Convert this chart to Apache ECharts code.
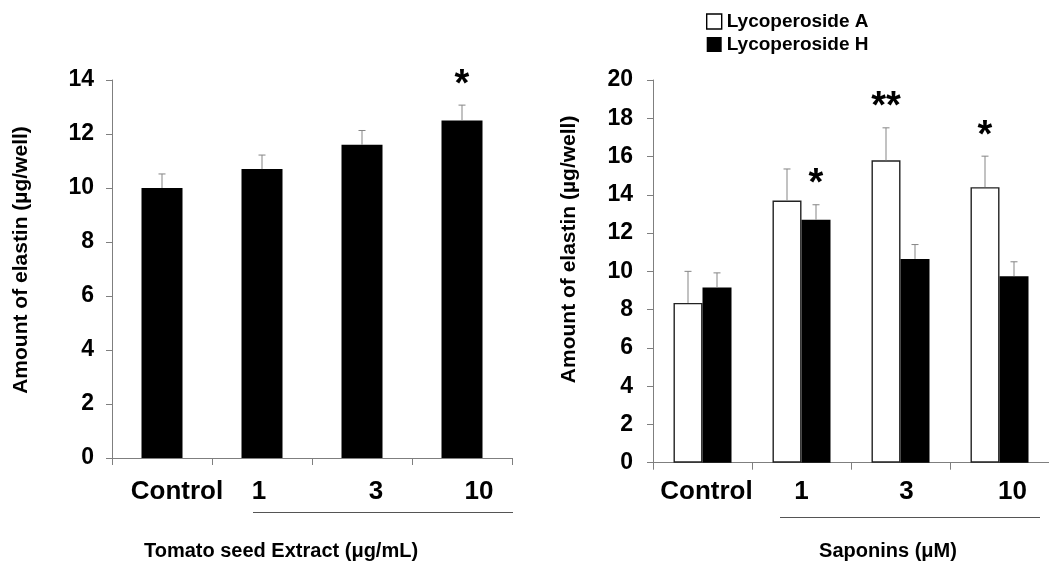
<!DOCTYPE html>
<html><head><meta charset="utf-8">
<script src="https://cdn.jsdelivr.net/npm/echarts@6/dist/echarts.min.js"></script>
<style>html,body{margin:0;padding:0;background:#fff}#c{width:1049px;height:563px}</style>
</head><body><div id="c"></div>
<script>
// ---- data ----
const leftCategories = ['Control', '1', '3', '10'];
const leftValues = [10.0, 10.7, 11.6, 12.5];
const leftErrors = [0.52, 0.52, 0.53, 0.57];
const leftStars = ['', '', '', '*'];

const rightCategories = ['Control', '1', '3', '10'];
const lycoA = [8.35, 13.7, 15.8, 14.4];
const lycoAErr = [1.65, 1.65, 1.7, 1.62];
const lycoH = [9.15, 12.7, 10.65, 9.75];
const lycoHErr = [0.77, 0.78, 0.75, 0.75];
const lycoAStars = ['', '', '**', '*'];
const lycoHStars = ['', '*', '', ''];

const leftYTicks = {min: 0, max: 14, interval: 2};
const rightYTicks = {min: 0, max: 20, interval: 2};
const leftXTitle = 'Tomato seed Extract (\u03bcg/mL)';
const rightXTitle = 'Saponins (\u03bcM)';
const yTitle = 'Amount of elastin (\u00b5g/well)';

// ---- style helpers ----
const FONT = '"Liberation Sans", Arial, sans-serif';
const leftLabelShift = [30, -6, 28, 34];
const rightLabelShift = [8, 0, 12, 26];

function catData(cats, shifts) {
  return cats.map((c, i) => ({
    value: c,
    textStyle: {padding: shifts[i] >= 0 ? [0, 0, 0, shifts[i]] : [0, -shifts[i], 0, 0]}
  }));
}

function errRender(values, errs, stars, offset) {
  return function (params, api) {
    const i = params.dataIndex;
    const x = api.coord([i, 0])[0] + offset;
    const yTop = api.coord([i, values[i]])[1];
    const yErr = api.coord([i, values[i] + errs[i]])[1];
    const children = [
      {type: 'line', shape: {x1: x, y1: yTop, x2: x, y2: yErr}, style: {stroke: '#858585', lineWidth: 1}},
      {type: 'line', shape: {x1: x - 3.5, y1: yErr, x2: x + 3.5, y2: yErr}, style: {stroke: '#858585', lineWidth: 1}}
    ];
    if (stars[i]) {
      children.push({type: 'text', x: x, y: yErr - 20,
        style: {text: stars[i], font: 'bold 38px ' + FONT, fill: '#000', align: 'center', verticalAlign: 'middle'}});
    }
    return {type: 'group', children};
  };
}

const axisLineStyle = {color: '#7f7f7f', width: 1};

function xAxisCfg(idx, cats, shifts, margin) {
  return {
    type: 'category', gridIndex: idx, data: catData(cats, shifts),
    axisLine: {lineStyle: axisLineStyle},
    axisTick: {show: true, length: 7, lineStyle: axisLineStyle},
    axisLabel: {color: '#000', fontFamily: FONT, fontWeight: 'bold', fontSize: 26, margin: margin, interval: 0}
  };
}
function yAxisCfg(idx, ticks, margin, nameGap, namePad) {
  return {
    type: 'value', gridIndex: idx, min: ticks.min, max: ticks.max, interval: ticks.interval,
    axisLine: {show: true, lineStyle: axisLineStyle},
    axisTick: {show: true, length: 6, lineStyle: axisLineStyle},
    splitLine: {show: false},
    axisLabel: {color: '#000', fontFamily: FONT, fontWeight: 'bold', fontSize: 23, margin: margin},
    name: yTitle, nameLocation: 'middle', nameRotate: 90, nameGap: nameGap,
    nameTextStyle: {color: '#000', fontFamily: FONT, fontWeight: 'bold', fontSize: 21, padding: namePad}
  };
}

const chart = echarts.init(document.getElementById('c'), null, {renderer: 'canvas'});
const option = {
  animation: false,
  backgroundColor: '#fff',
  grid: [
    {left: 112, top: 80, width: 400, height: 378},
    {left: 653, top: 80, width: 404, height: 382.7}
  ],
  legend: {
    orient: 'vertical', left: 701, top: 7, itemWidth: 15, itemHeight: 15, itemGap: 4,
    data: [
      {name: 'Lycoperoside A', icon: 'rect', itemStyle: {color: '#fff', borderColor: '#000', borderWidth: 1.4}},
      {name: 'Lycoperoside H', icon: 'rect', itemStyle: {color: '#000'}}
    ],
    textStyle: {color: '#000', fontFamily: FONT, fontWeight: 'bold', fontSize: 19},
    selectedMode: false
  },
  xAxis: [
    xAxisCfg(0, leftCategories, leftLabelShift, 21),
    xAxisCfg(1, rightCategories, rightLabelShift, 16)
  ],
  yAxis: [
    yAxisCfg(0, leftYTicks, 18, 80, [0, 0, 0, 18]),
    yAxisCfg(1, rightYTicks, 20, 73, [0, 0, 0, 44])
  ],
  series: [
    {type: 'bar', name: 'Extract', xAxisIndex: 0, yAxisIndex: 0, data: leftValues, barWidth: 41,
      itemStyle: {color: '#000'}},
    {type: 'custom', xAxisIndex: 0, yAxisIndex: 0, data: leftValues.map((v, i) => [i, v]),
      renderItem: errRender(leftValues, leftErrors, leftStars, 0), z: 5},
    {type: 'bar', name: 'Lycoperoside A', xAxisIndex: 1, yAxisIndex: 1, data: lycoA, barWidth: 29, barGap: '0%',
      itemStyle: {color: '#fff', borderColor: '#222', borderWidth: 1.4}},
    {type: 'bar', name: 'Lycoperoside H', xAxisIndex: 1, yAxisIndex: 1, data: lycoH, barWidth: 29, barGap: '0%',
      itemStyle: {color: '#000'}},
    {type: 'custom', xAxisIndex: 1, yAxisIndex: 1, data: lycoA.map((v, i) => [i, v]),
      renderItem: errRender(lycoA, lycoAErr, lycoAStars, -14.5), z: 5},
    {type: 'custom', xAxisIndex: 1, yAxisIndex: 1, data: lycoH.map((v, i) => [i, v]),
      renderItem: errRender(lycoH, lycoHErr, lycoHStars, 14.5), z: 5}
  ],
  graphic: [
    {type: 'line', shape: {x1: 253, y1: 512.5, x2: 513, y2: 512.5}, style: {stroke: '#555', lineWidth: 1}},
    {type: 'line', shape: {x1: 780, y1: 517.5, x2: 1040, y2: 517.5}, style: {stroke: '#555', lineWidth: 1}},
    {type: 'text', x: 281, y: 551, style: {text: leftXTitle, font: 'bold 20px ' + FONT, fill: '#000', align: 'center', verticalAlign: 'middle'}},
    {type: 'text', x: 888, y: 551, style: {text: rightXTitle, font: 'bold 20px ' + FONT, fill: '#000', align: 'center', verticalAlign: 'middle'}}
  ]
};
chart.setOption(option);
</script>
</body></html>
